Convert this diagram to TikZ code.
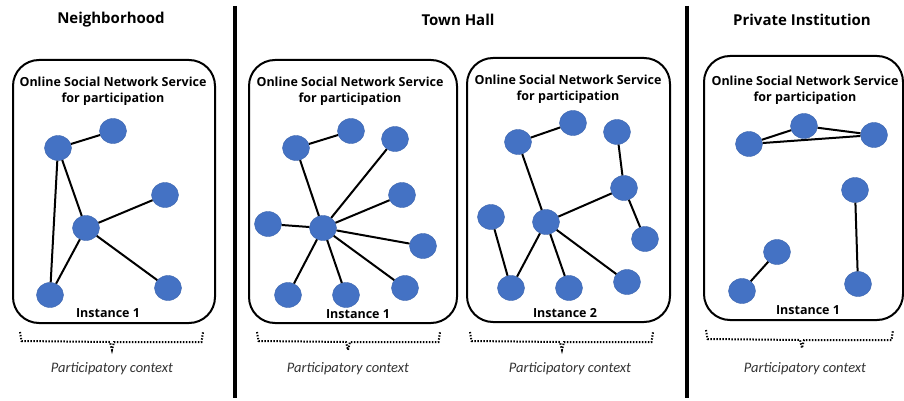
\documentclass[tikz,border=0pt]{standalone}
\usepackage{fontspec}
\setmainfont{Open Sans}
\newfontfamily\ctxfont{Carlito}
\usetikzlibrary{shapes.geometric}
\definecolor{nodeblue}{HTML}{4472C4}
\definecolor{nodeedge}{HTML}{3A63AD}
\definecolor{ctxgray}{HTML}{333333}
\tikzset{
  boxst/.style={draw, line width=2pt, rounded corners=26pt, inner sep=0pt},
  usr/.style={ellipse, fill=nodeblue, draw=nodeedge, line width=0.4pt, minimum width=27pt, minimum height=25pt, inner sep=0pt},
  lnk/.style={line width=2pt, black},
  sepline/.style={line width=4pt, black},
  brc/.style={line width=2pt, dash pattern=on 1.4pt off 1.6pt},
  ttl/.style={font=\fontsize{15}{18}\selectfont\bfseries, inner sep=0pt},
  osn/.style={font=\fontsize{12.5}{16}\selectfont\bfseries, align=center, inner sep=0pt},
  inst/.style={font=\fontsize{12.5}{15}\selectfont\bfseries, inner sep=0pt},
  ctx/.style={font=\fontsize{14.5}{16}\selectfont\ctxfont\itshape, text=ctxgray, inner sep=0pt}
}
\begin{document}
\begin{tikzpicture}[x=1pt,y=-1pt]
\useasboundingbox (0,0) rectangle (904,401);
% separators
\coordinate (s1t) at (235,6); \coordinate (s1b) at (235,398);
\coordinate (s2t) at (687,6); \coordinate (s2b) at (687,398);
\draw[sepline] (s1t) -- (s1b);
\draw[sepline] (s2t) -- (s2b);
% titles
\node[ttl] (t1) at (111,20) {Neighborhood};
\node[ttl] (t2) at (458,20) {Town Hall};
\node[ttl] (t3) at (802,20) {Private Institution};
% boxes
\node[boxst, minimum width=202pt, minimum height=263pt] (b1) at (114,191.5) {};
\node[boxst, minimum width=208pt, minimum height=263pt] (b2) at (353,191.5) {};
\node[boxst, minimum width=203pt, minimum height=264pt] (b3) at (568.5,190) {};
\node[boxst, minimum width=199pt, minimum height=264pt] (b4) at (803.5,188) {};
% box titles
\node[osn] (o1) at (113,91) {Online Social Network Service\\for participation};
\node[osn] (o2) at (350,91) {Online Social Network Service\\for participation};
\node[osn] (o3) at (568,89) {Online Social Network Service\\for participation};
\node[osn] (o4) at (805,90) {Online Social Network Service\\for participation};
% instance labels
\node[inst] (i1) at (108,313) {Instance 1};
\node[inst] (i2) at (358,314) {Instance 1};
\node[inst] (i3) at (565,313) {Instance 2};
\node[inst] (i4) at (808,310) {Instance 1};
% panel 1 graph
\node[usr] (pa) at (58,148) {};
\node[usr] (pb) at (113,131) {};
\node[usr] (pc) at (165,195) {};
\node[usr] (pd) at (86,228) {};
\node[usr] (pe) at (50,295) {};
\node[usr] (pf) at (168,288) {};
\draw[lnk] (pa) -- (pb);
\draw[lnk] (pa) -- (pd);
\draw[lnk] (pa) -- (pe);
\draw[lnk] (pd) -- (pc);
\draw[lnk] (pd) -- (pe);
\draw[lnk] (pd) -- (pf);
% panel 2 graph
\node[usr] (qa) at (296,148) {};
\node[usr] (qb) at (351,131) {};
\node[usr] (qc) at (395,139) {};
\node[usr] (qd) at (402,195) {};
\node[usr] (qe) at (268,224) {};
\node[usr] (qm) at (323,228) {};
\node[usr] (qf) at (423,246) {};
\node[usr] (qg) at (288,295) {};
\node[usr] (qh) at (346,295) {};
\node[usr] (qi) at (405,288) {};
\draw[lnk] (qa) -- (qb);
\foreach \n in {qa,qc,qd,qe,qf,qg,qh,qi} \draw[lnk] (qm) -- (\n);
% panel 3 graph
\node[usr] (ra) at (518,142) {};
\node[usr] (rb) at (573,123) {};
\node[usr] (rc) at (617,132) {};
\node[usr] (rd) at (624,188) {};
\node[usr] (re) at (491,217) {};
\node[usr] (rm) at (546,222) {};
\node[usr] (rf) at (645,239) {};
\node[usr] (rg) at (511,288) {};
\node[usr] (rh) at (569,288) {};
\node[usr] (ri) at (627,282) {};
\draw[lnk] (ra) -- (rb);
\draw[lnk] (ra) -- (rm);
\draw[lnk] (rc) -- (rd);
\draw[lnk] (rd) -- (rm);
\draw[lnk] (rd) -- (rf);
\draw[lnk] (re) -- (rg);
\draw[lnk] (rm) -- (rg);
\draw[lnk] (rm) -- (rh);
\draw[lnk] (rm) -- (ri);
% panel 4 graph
\node[usr] (wa) at (749,144) {};
\node[usr] (wb) at (804,126) {};
\node[usr] (wc) at (874,135) {};
\node[usr] (wd) at (855,190) {};
\node[usr] (we) at (777,252) {};
\node[usr] (wf) at (742,291) {};
\node[usr] (wg) at (858,284) {};
\draw[lnk] (wa) -- (wb);
\draw[lnk] (wb) -- (wc);
\draw[lnk] (wa) -- (wc);
\draw[lnk] (wd) -- (wg);
\draw[lnk] (we) -- (wf);
% braces
\coordinate (k1l) at (20,332); \coordinate (k1m) at (112,342); \coordinate (k1r) at (203,332);
\coordinate (k2l) at (257,332); \coordinate (k2m) at (348,342); \coordinate (k2r) at (440,332);
\coordinate (k3l) at (470,332); \coordinate (k3m) at (562,342); \coordinate (k3r) at (653,332);
\coordinate (k4l) at (706,330); \coordinate (k4m) at (802,340); \coordinate (k4r) at (893,330);
\foreach \k in {k1,k2,k3,k4}{
  \draw[brc] (\k l) -- ++(1.5,9) -- ([xshift=-2pt]\k m) -- ++(2,8) -- ++(2,-8) -- ([xshift=-1.5pt]\k r |- \k m) -- (\k r);
}
% context labels
\node[ctx] (c1) at (112,369) {Participatory context};
\node[ctx] (c2) at (348,369) {Participatory context};
\node[ctx] (c3) at (570,369) {Participatory context};
\node[ctx] (c4) at (805,369) {Participatory context};
\end{tikzpicture}
\end{document}
